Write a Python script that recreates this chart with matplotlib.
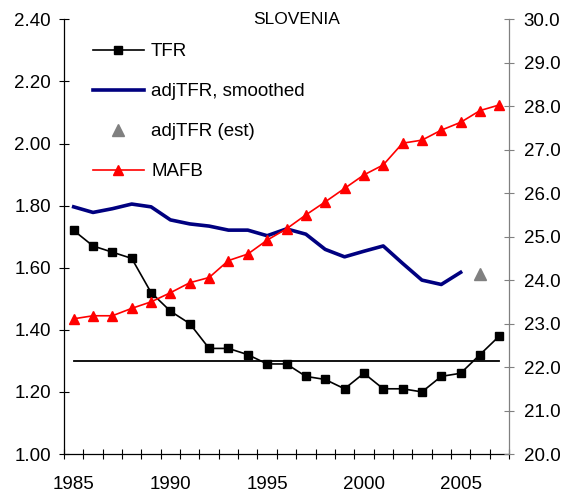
import matplotlib
matplotlib.use('Agg')
import matplotlib.pyplot as plt
from matplotlib.ticker import FormatStrFormatter

plt.rcParams['font.family'] = ['Liberation Sans', 'DejaVu Sans']

# data
years = list(range(1985, 2008))
tfr = [1.72, 1.67, 1.65, 1.63, 1.52, 1.46, 1.42, 1.34, 1.34, 1.32, 1.29, 1.29,
       1.25, 1.24, 1.21, 1.26, 1.21, 1.21, 1.20, 1.25, 1.26, 1.32, 1.38]
adj_years = list(range(1985, 2006))
adj_tfr = [1.796, 1.778, 1.79, 1.805, 1.796, 1.754, 1.741, 1.734, 1.721, 1.721,
           1.703, 1.725, 1.708, 1.659, 1.635, 1.653, 1.670, 1.614, 1.560, 1.546, 1.585]
est_year = [2006]
est_tfr = [1.58]
mafb = [23.11, 23.18, 23.18, 23.35, 23.50, 23.71, 23.94, 24.06, 24.45, 24.60,
        24.92, 25.18, 25.50, 25.80, 26.11, 26.42, 26.65, 27.15, 27.22, 27.45,
        27.63, 27.90, 28.03]
replacement = 1.30
label_years = [1985, 1990, 1995, 2000, 2005]

fig = plt.figure(figsize=(5.67, 4.98), dpi=100)
ax = fig.add_axes([64/567, 1 - 454/498, 445/567, 434.7/498])
ax2 = ax.twinx()

ax.plot([years[0], years[-1]], [replacement, replacement], color='black', linewidth=1.3)
l_tfr, = ax.plot(years, tfr, color='black', marker='s', markersize=5.5,
                 linewidth=1.2, label='TFR')
l_adj, = ax.plot(adj_years, adj_tfr, color='#000080', linewidth=2.6,
                 label='adjTFR, smoothed')
l_est, = ax.plot(est_year, est_tfr, linestyle='none', marker='^', markersize=9,
                 color='#808080', label='adjTFR (est)')
l_mafb, = ax2.plot(years, mafb, color='#ff0000', marker='^', markersize=7,
                   linewidth=1.2, label='MAFB')

ax.set_xlim(1984.5, 2007.5)
ax.set_ylim(1.0, 2.4)
ax2.set_ylim(20.0, 30.0)

ax.set_yticks([1.0 + 0.2 * i for i in range(8)])
ax.yaxis.set_major_formatter(FormatStrFormatter('%.2f'))
ax2.set_yticks(list(range(20, 31)))
ax2.yaxis.set_major_formatter(FormatStrFormatter('%.1f'))

ax.set_xticks(label_years)
ax.set_xticklabels([str(y) for y in label_years])
ax.set_xticks([1984.5 + i for i in range(24)], minor=True)

ax.tick_params(axis='x', which='major', length=0, pad=16, labelsize=13.5)
ax.tick_params(axis='x', which='minor', direction='inout', length=7, width=0.8)
ax.tick_params(axis='y', direction='inout', length=7, width=0.8, pad=6, labelsize=13.5)
ax2.tick_params(axis='y', direction='inout', length=7, width=0.8, pad=7,
                labelsize=13.5, color='#808080')

for a in (ax, ax2):
    a.spines['top'].set_visible(False)
ax.spines['right'].set_visible(False)
ax2.spines['left'].set_visible(False)
ax2.spines['bottom'].set_visible(False)
ax2.spines['right'].set_color('#808080')
ax.spines['left'].set_linewidth(0.9)
ax.spines['bottom'].set_linewidth(0.9)
ax2.spines['right'].set_linewidth(0.9)

ax2.legend([l_tfr, l_adj, l_est, l_mafb],
           ['TFR', 'adjTFR, smoothed', 'adjTFR (est)', 'MAFB'],
           loc='upper left', bbox_to_anchor=(0.065, 0.945), frameon=False,
           fontsize=13.5, handlelength=2.7, handletextpad=0.4, labelspacing=1.22,
           borderaxespad=0, borderpad=0)

fig.text(0.524, 1 - 12/498, 'SLOVENIA', ha='center', va='top', fontsize=12.5)

fig.savefig('out.png', dpi=100)
